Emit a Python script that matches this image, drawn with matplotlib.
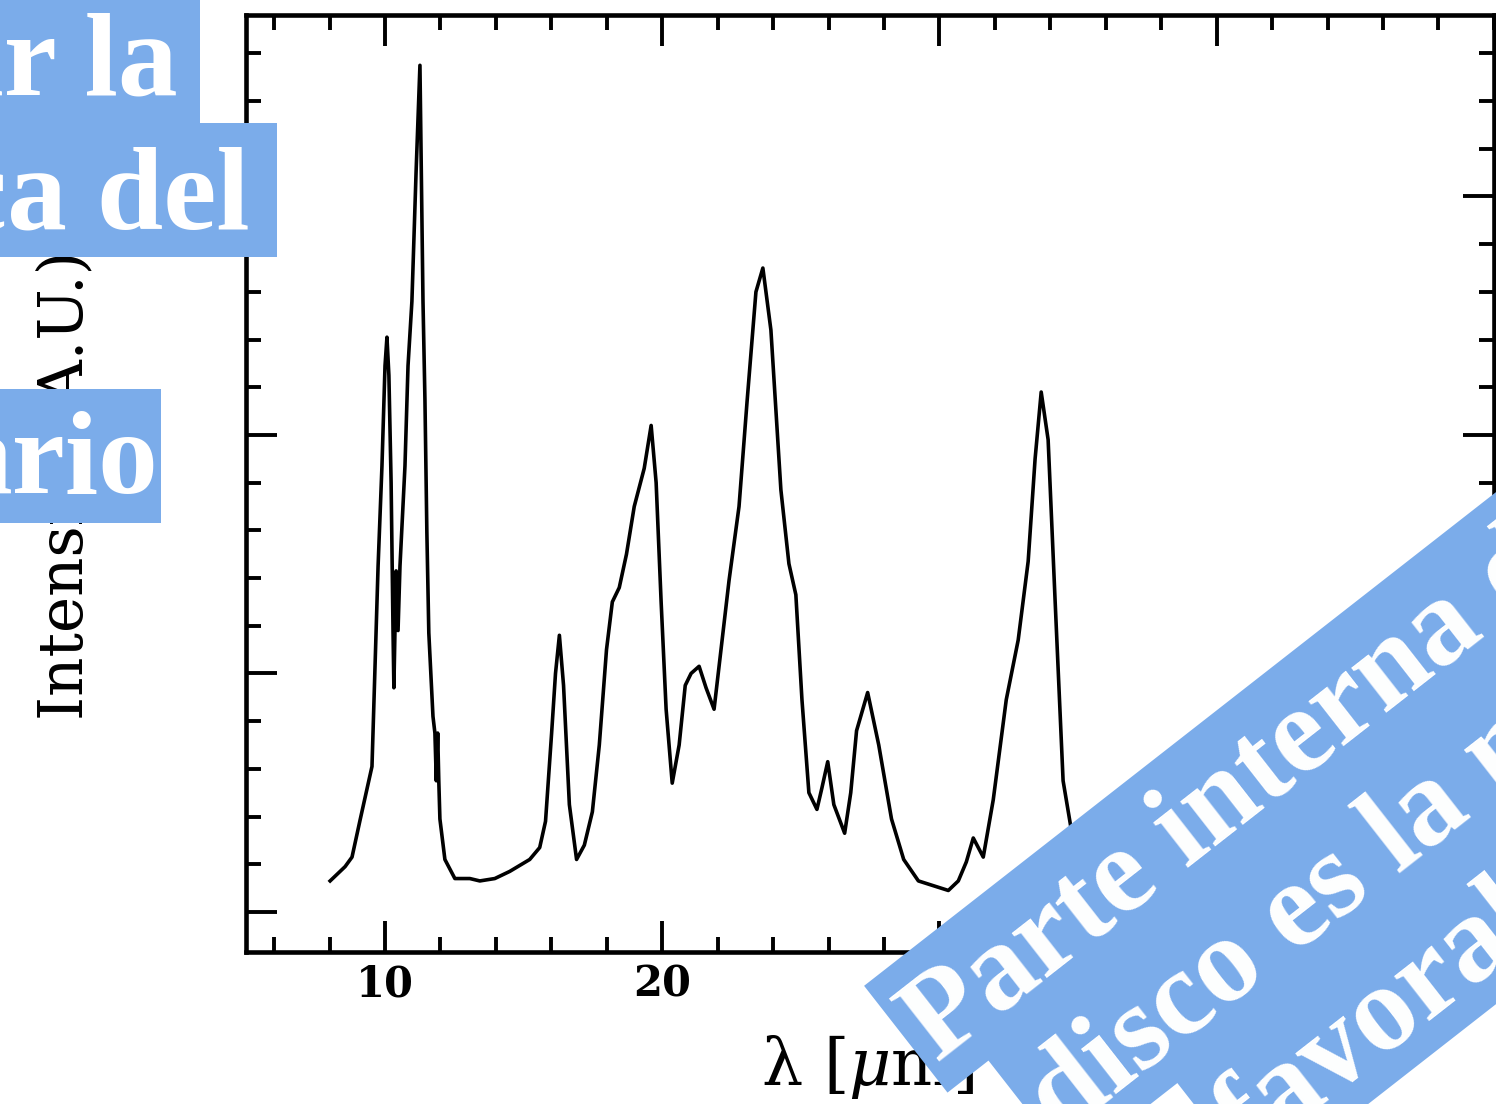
import matplotlib
matplotlib.use("Agg")
import matplotlib.pyplot as plt
from matplotlib.patches import Rectangle
from matplotlib.ticker import MultipleLocator
from matplotlib.transforms import IdentityTransform
import numpy as np

# spectrum (arbitrary units)
wavelength_um = [
    8.02, 8.56, 8.81, 9.10, 9.53, 9.64, 9.75, 9.89, 10.00, 10.07,
    10.14, 10.22, 10.29, 10.32, 10.40, 10.47, 10.54, 10.72, 10.83, 10.97,
    11.12, 11.26, 11.37, 11.44, 11.51, 11.58, 11.73, 11.80, 11.85, 11.90,
    11.94, 11.98, 12.16, 12.52, 13.06, 13.42, 13.96, 14.50, 15.22, 15.58,
    15.79, 16.01, 16.15, 16.29, 16.44, 16.65, 16.91, 17.19, 17.48, 17.73,
    17.99, 18.20, 18.45, 18.71, 18.99, 19.35, 19.60, 19.78, 19.96, 20.14,
    20.36, 20.61, 20.83, 21.04, 21.33, 21.58, 21.87, 22.12, 22.41, 22.77,
    23.06, 23.38, 23.63, 23.92, 24.28, 24.57, 24.82, 25.04, 25.29, 25.58,
    25.76, 25.97, 26.19, 26.58, 26.80, 27.01, 27.41, 27.81, 28.27, 28.71,
    29.24, 29.78, 30.32, 30.68, 30.97, 31.22, 31.58, 31.94, 32.41, 32.84,
    33.20, 33.45, 33.67, 33.92, 34.17, 34.46, 34.82, 35.36,
]
intensity = [
    0.13, 0.19, 0.23, 0.385, 0.61, 1.03, 1.45, 1.87, 2.29, 2.41,
    2.25, 1.80, 1.17, 0.94, 1.43, 1.18, 1.45, 1.87, 2.29, 2.56,
    3.10, 3.55, 2.56, 2.15, 1.59, 1.17, 0.82, 0.75, 0.55, 0.75,
    0.55, 0.39, 0.22, 0.14, 0.14, 0.13, 0.14, 0.17, 0.22, 0.27,
    0.38, 0.75, 1.00, 1.16, 0.95, 0.45, 0.22, 0.28, 0.42, 0.70,
    1.10, 1.30, 1.36, 1.50, 1.70, 1.86, 2.04, 1.80, 1.30, 0.85,
    0.54, 0.70, 0.95, 1.00, 1.03, 0.94, 0.85, 1.10, 1.39, 1.70,
    2.14, 2.60, 2.70, 2.44, 1.77, 1.46, 1.33, 0.89, 0.50, 0.43,
    0.52, 0.63, 0.45, 0.33, 0.50, 0.76, 0.92, 0.70, 0.39, 0.22,
    0.13, 0.11, 0.09, 0.13, 0.21, 0.31, 0.23, 0.47, 0.89, 1.14,
    1.47, 1.90, 2.18, 1.98, 1.31, 0.55, 0.30, 0.18,
]
x_ticks = [10, 20, 30, 40]
x_ticklabels = ["10", "20", "30", "40"]

# slide overlay text (clipped by the page edges)
left_lines = ["ar la", "ca del", "ario"]
banner_lines = ["Parte interna d", "disco es la m", "favorab"]

BLUE = "#7BACEA"
W, H = 1496, 1104

plt.rcParams["mathtext.fontset"] = "dejavuserif"
fig = plt.figure(figsize=(W / 100, H / 100), dpi=100)
ax = fig.add_axes([246.4 / W, 1 - 952 / H, (1493.9 - 246.4) / W, (952 - 15) / H])

ax.plot(wavelength_um, intensity, color="black", lw=2.6, solid_joinstyle="round")
ax.set_xlim(5, 50)
ax.set_ylim(-0.168, 3.761)

ax.set_xticks(x_ticks)
ax.set_xticklabels(x_ticklabels)
ax.xaxis.set_minor_locator(MultipleLocator(2))
ax.yaxis.set_major_locator(MultipleLocator(1))
ax.yaxis.set_minor_locator(MultipleLocator(0.2))
ax.tick_params(which="both", direction="in", top=True, right=True, width=2.8, color="black")
ax.tick_params(which="major", length=22, pad=8, labelsize=30)
ax.tick_params(which="minor", length=11)
ax.tick_params(axis="y", labelleft=False)
for lab in ax.get_xticklabels():
    lab.set_fontfamily("DejaVu Serif")
    lab.set_fontweight("bold")
for sp in ax.spines.values():
    sp.set_linewidth(3.3)

px = IdentityTransform()

# axis labels
fig.text(83, H - 485, "Intensity (A.U.)", transform=px, rotation=90, rotation_mode="anchor",
         ha="center", va="baseline", fontsize=44, family="DejaVu Serif", zorder=3)
fig.text(868, 19, "λ [$\\mu$m]", transform=px, ha="center", va="baseline",
         fontsize=47, family="DejaVu Serif", zorder=3)

# horizontal highlight boxes on the left
left_boxes = [(-10, H - 123, 210, 140), (-10, H - 257, 287, 134), (-10, H - 523, 171, 134)]
left_text_pos = [(178, H - 94), (250, H - 228), (158, H - 493)]
for (bx, by, bw, bh), (tx, ty), s in zip(left_boxes, left_text_pos, left_lines):
    fig.add_artist(Rectangle((bx, by), bw, bh, transform=px, facecolor=BLUE,
                             edgecolor="none", zorder=5))
    fig.text(tx, ty, s, transform=px, ha="right", va="baseline", color="white",
             fontsize=86, fontweight="bold", family="Liberation Serif", zorder=6)

# rotated banner, bottom right: one strip per line, stacked across the text direction
ang = 38.0
u = np.array([np.cos(np.radians(ang)), np.sin(np.radians(ang))])
v = np.array([-u[1], u[0]])
strip_h = 134
first_corner = np.array([947.5, 11.4])   # lower-left corner of the first strip
shift_along = [0, 52, 187]
for k, s in enumerate(banner_lines):
    c = first_corner + shift_along[k] * u - k * strip_h * v
    fig.add_artist(Rectangle(tuple(c), 1500, strip_h + 1.5, angle=ang, transform=px,
                             facecolor=BLUE, edgecolor="none", zorder=5))
    tx, ty = c + 29 * v + 10 * u
    fig.text(tx, ty, s, transform=px, rotation=ang, rotation_mode="anchor",
             ha="left", va="baseline", color="white", fontsize=88,
             fontweight="bold", family="Liberation Serif", zorder=6)

fig.savefig("out.png", dpi=100)
